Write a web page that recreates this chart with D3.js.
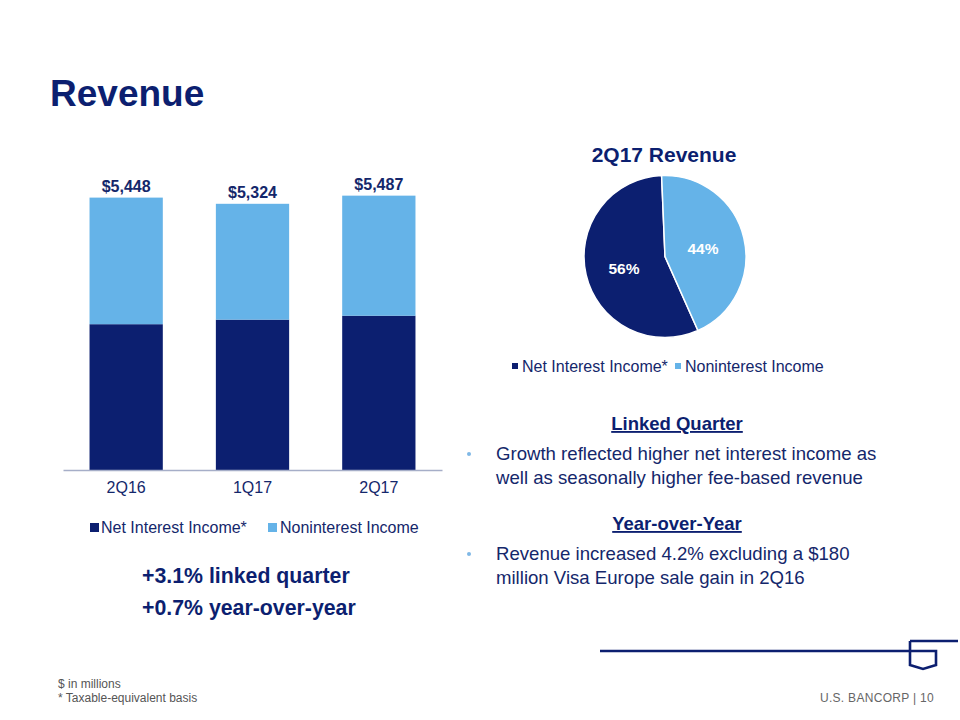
<!DOCTYPE html>
<html><head><meta charset="utf-8">
<script src="https://cdn.jsdelivr.net/npm/d3@7"></script>
<style>body{margin:0;background:#fff}svg{display:block;font-family:Arial,"Liberation Sans",sans-serif}</style>
</head><body>
<svg id="c" width="960" height="720"></svg>
<script>
const categories = ["2Q16","1Q17","2Q17"];
const netInterest = [2916,3007,3085];
const nonInterest = [2532,2317,2402];
const totals = ["$5,448","$5,324","$5,487"];
const seriesNames = ["Net Interest Income*","Noninterest Income"];
const pieValues = [56,44];
const pieLabels = ["56%","44%"];

const NAVY="#0c1f70", LIGHT="#65b3e8", TXT="#14276b";
const svg=d3.select("#c");

svg.append("text").attr("x",50).attr("y",106).attr("font-size",37).attr("font-weight","bold").attr("fill",NAVY).text("Revenue");

// bar chart
const x=d3.scaleBand().domain(categories).range([63,442]).paddingInner(0.42).paddingOuter(0.21);
const y=d3.scaleLinear().domain([0,5600]).range([470,190]);
const g=svg.append("g");
const stackData=categories.map((c,i)=>({c,nii:netInterest[i],non:nonInterest[i]}));
const stack=d3.stack().keys(["nii","non"])(stackData);
const cols=[NAVY,LIGHT];
stack.forEach((s,k)=>{
  g.selectAll(null).data(s).join("rect")
   .attr("x",d=>x(d.data.c)).attr("width",x.bandwidth())
   .attr("y",d=>y(d[1])).attr("height",d=>y(d[0])-y(d[1])).attr("fill",cols[k]);
});
g.selectAll(null).data(stackData).join("text")
 .attr("x",d=>x(d.c)+x.bandwidth()/2).attr("y",d=>y(d.nii+d.non)-6)
 .attr("text-anchor","middle").attr("font-size",16).attr("font-weight","bold").attr("fill",TXT)
 .text((d,i)=>totals[i]);
const ax=g.append("g").attr("transform","translate(0,470)").call(d3.axisBottom(x).tickSize(0).tickPadding(12));
ax.select(".domain").attr("stroke","#a6aec8").attr("stroke-width",1.5);
ax.selectAll("text").attr("font-size",16).attr("fill",TXT).attr("font-family","Arial,'Liberation Sans',sans-serif");

// bar legend
const lg=[{x:90,tx:101},{x:268,tx:280}];
seriesNames.forEach((n,i)=>{
  svg.append("rect").attr("x",lg[i].x).attr("y",523).attr("width",9).attr("height",9).attr("fill",cols[i]);
  svg.append("text").attr("x",lg[i].tx).attr("y",533).attr("font-size",16).attr("fill",TXT).text(n);
});

svg.append("text").attr("x",142).attr("y",583).attr("font-size",21.3).attr("font-weight","bold").attr("fill",NAVY).text("+3.1% linked quarter");
svg.append("text").attr("x",142).attr("y",615).attr("font-size",21.3).attr("font-weight","bold").attr("fill",NAVY).text("+0.7% year-over-year");

// pie
svg.append("text").attr("x",664).attr("y",162).attr("text-anchor","middle").attr("font-size",21).attr("font-weight","bold").attr("fill",NAVY).text("2Q17 Revenue");
const start=156*Math.PI/180;
const pie=d3.pie().sort(null).startAngle(start).endAngle(start+2*Math.PI)(pieValues);
const arc=d3.arc().innerRadius(0).outerRadius(81);
const pg=svg.append("g").attr("transform","translate(665,256.5)");
pg.selectAll(null).data(pie).join("path").attr("d",arc).attr("fill",(d,i)=>cols[i]).attr("stroke","#fff").attr("stroke-width",1.5);
const lpos=[[-41,12],[38,-8]];
pg.selectAll(null).data(pie).join("text").attr("x",(d,i)=>lpos[i][0]).attr("y",(d,i)=>lpos[i][1]+5.5)
 .attr("text-anchor","middle").attr("font-size",15.5).attr("font-weight","bold").attr("fill","#fff").text((d,i)=>pieLabels[i]);
const plg=[{x:512,tx:522},{x:675,tx:685}];
seriesNames.forEach((n,i)=>{
  svg.append("rect").attr("x",plg[i].x).attr("y",363).attr("width",6).attr("height",6).attr("fill",cols[i]);
  svg.append("text").attr("x",plg[i].tx).attr("y",372).attr("font-size",16).attr("fill",TXT).text(n);
});

// text block
function heading(t,yy){svg.append("text").attr("x",677).attr("y",yy).attr("text-anchor","middle").attr("font-size",18.5).attr("font-weight","bold").attr("fill",NAVY).attr("text-decoration","underline").text(t);}
function bullet(lines,yy){
  svg.append("circle").attr("cx",469).attr("cy",yy-6).attr("r",2).attr("fill","#7fb8e6");
  lines.forEach((l,i)=>svg.append("text").attr("x",496).attr("y",yy+i*24).attr("font-size",18.6).attr("fill",TXT).text(l));
}
heading("Linked Quarter",430);
bullet(["Growth reflected higher net interest income as","well as seasonally higher fee-based revenue"],460);
heading("Year-over-Year",530);
bullet(["Revenue increased 4.2% excluding a $180","million Visa Europe sale gain in 2Q16"],560);

// footer
svg.append("text").attr("x",58).attr("y",688).attr("font-size",12).attr("fill","#555").text("$ in millions");
svg.append("text").attr("x",58).attr("y",702).attr("font-size",12).attr("fill","#555").text("* Taxable-equivalent basis");
svg.append("text").attr("x",934).attr("y",702).attr("text-anchor","end").attr("font-size",12).attr("letter-spacing",0.3).attr("fill","#666").text("U.S. BANCORP | 10");
svg.append("path").attr("d","M600,651H910M910,641H958M910,641V665L923,669L936,665V651H910").attr("fill","none").attr("stroke",NAVY).attr("stroke-width",2.6);
</script>
</body></html>
